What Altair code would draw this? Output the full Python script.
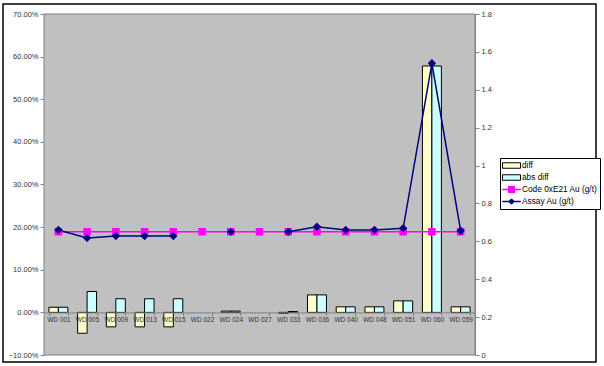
import altair as alt
import pandas as pd

categories = ["WD 001", "WD 005", "WD 009", "WD 013", "WD 015", "WD 022", "WD 024", "WD 027",
              "WD 033", "WD 036", "WD 040", "WD 048", "WD 051", "WD 060", "WD 059"]
diff = [0.012, -0.049, -0.034, -0.034, -0.034, None, 0.003, None,
        -0.002, 0.041, 0.013, 0.013, 0.027, 0.578, 0.013]
abs_diff = [0.012, 0.049, 0.032, 0.032, 0.032, None, 0.003, None,
            0.002, 0.041, 0.013, 0.013, 0.027, 0.578, 0.013]
code_au = [0.65, 0.65, 0.65, 0.65, 0.65, 0.65, 0.65, 0.65,
           0.65, 0.65, 0.65, 0.65, 0.65, 0.65, 0.65]
assay_au = [0.66, 0.618, 0.628, 0.628, 0.628, None, 0.65, None,
            0.65, 0.677, 0.66, 0.66, 0.669, 1.54, 0.656]

series_names = ["diff", "abs diff", "Code 0xE21 Au (g/t)", "Assay Au (g/t)"]
left_ticks = [-0.1, 0.0, 0.1, 0.2, 0.3, 0.4, 0.5, 0.6, 0.7]
right_ticks = [0, 0.2, 0.4, 0.6, 0.8, 1.0, 1.2, 1.4, 1.6, 1.8]

bars_df = pd.DataFrame({
    "category": categories * 2,
    "series": [series_names[0]] * len(categories) + [series_names[1]] * len(categories),
    "value": diff + abs_diff,
})
lines_df = pd.DataFrame({
    "category": categories * 2,
    "series": [series_names[2]] * len(categories) + [series_names[3]] * len(categories),
    "value": code_au + assay_au,
})

FONT = "Liberation Sans"
fill_scale = alt.Scale(domain=series_names, range=["#ffffcc", "#ccffff", "#ff00ff", "#000080"])
stroke_scale = alt.Scale(domain=series_names, range=["#000000", "#000000", "#ff00ff", "#000080"])
rect_path = "M-1.8,-0.55H1.8V0.55H-1.8Z"
code_path = "M-1.8,-0.05H1.8V0.05H-1.8Z M-0.6,-0.6H0.6V0.6H-0.6Z"
assay_path = "M-1.8,-0.05H1.8V0.05H-1.8Z M0,-0.55L0.55,0L0,0.55L-0.55,0Z"
shape_scale = alt.Scale(domain=series_names, range=[rect_path, rect_path, code_path, assay_path])

x_enc = alt.X(
    "category:N", sort=categories,
    scale=alt.Scale(domain=categories, paddingInner=0.34, paddingOuter=0.17),
    axis=alt.Axis(title=None, labelAngle=0, offset=-42.6, tickBand="extent", tickSize=3,
                  labelFontSize=6.5, labelColor="#333333", domainColor="#808080",
                  tickColor="#808080", labelPadding=1, zindex=1, labelOverlap=False),
)

fill_enc = alt.Fill("series:N", scale=fill_scale, legend=alt.Legend(title=None))
stroke_enc = alt.Stroke("series:N", scale=stroke_scale, legend=alt.Legend(title=None))

plot_bg = alt.Chart(pd.DataFrame({"a": [0]})).mark_rect(
    fill="#c0c0c0", stroke="#808080", strokeWidth=1
).encode(x=alt.value(0), x2=alt.value(431), y=alt.value(0), y2=alt.value(341))

bars = alt.Chart(bars_df).mark_bar(strokeWidth=1, opacity=1).encode(
    x=x_enc,
    xOffset=alt.XOffset("series:N", sort=series_names[:2],
                        scale=alt.Scale(domain=series_names[:2], paddingInner=0, paddingOuter=0)),
    y=alt.Y("value:Q", scale=alt.Scale(domain=[-0.1, 0.7], nice=False, zero=False),
            axis=alt.Axis(title=None, format=".2%", values=left_ticks, grid=False, tickSize=4,
                          labelFontSize=7.5, labelColor="#333333", domainColor="#808080",
                          tickColor="#808080", labelPadding=2)),
    fill=fill_enc,
    stroke=stroke_enc,
)

y_right = alt.Y("value:Q", scale=alt.Scale(domain=[0, 1.8], nice=False),
                axis=alt.Axis(title=None, orient="right", format=".1~f", values=right_ticks,
                              grid=False, tickSize=4, labelFontSize=7.5, labelColor="#333333",
                              domainColor="#808080", tickColor="#808080", labelPadding=2))

line = alt.Chart(lines_df).mark_line(strokeWidth=1.5, invalid="break-paths-show-domains").encode(
    x=x_enc, y=y_right, stroke=stroke_enc,
)
code_pts = alt.Chart(lines_df).transform_filter(
    alt.datum.series == series_names[2]
).mark_point(shape="square", filled=True, size=30, opacity=1).encode(
    x=x_enc, y=y_right, fill=fill_enc, stroke=stroke_enc,
)
assay_pts = alt.Chart(lines_df).transform_filter(
    alt.datum.series == series_names[3]
).mark_point(shape="diamond", filled=True, size=30, opacity=1).encode(
    x=x_enc, y=y_right, fill=fill_enc, stroke=stroke_enc,
)
legend_dummy = alt.Chart(lines_df).transform_filter("false").mark_point(
    filled=True, opacity=1
).encode(
    shape=alt.Shape("series:N", scale=shape_scale, legend=alt.Legend(title=None)),
    fill=fill_enc, stroke=stroke_enc,
)

right_layer = alt.layer(line, code_pts, assay_pts, legend_dummy)

frame = alt.Chart(pd.DataFrame({"a": [0]})).mark_rect(
    filled=False, stroke="#000000", strokeWidth=1.5
).encode(x=alt.value(-41), x2=alt.value(552), y=alt.value(-10), y2=alt.value(348))

chart = alt.layer(plot_bg, bars, right_layer, frame).resolve_scale(y="independent").properties(
    width=431, height=341,
    autosize=alt.AutoSizeParams(type="none"),
    padding={"left": 44, "top": 14, "right": 129, "bottom": 11},
    background="#ffffff",
).configure(font=FONT).configure_view(
    stroke=None
).configure_legend(
    orient="none", legendX=456, legendY=144,
    fillColor="#ffffff", strokeColor="#000000", padding=2,
    symbolSize=100, symbolOffset=4, symbolStrokeWidth=1, labelOffset=5,
    labelFontSize=8.3, labelFont=FONT, labelColor="#000000", rowPadding=1,
    cornerRadius=0,
)

chart.save("out.html", embed_options={"renderer": "svg", "actions": False})
